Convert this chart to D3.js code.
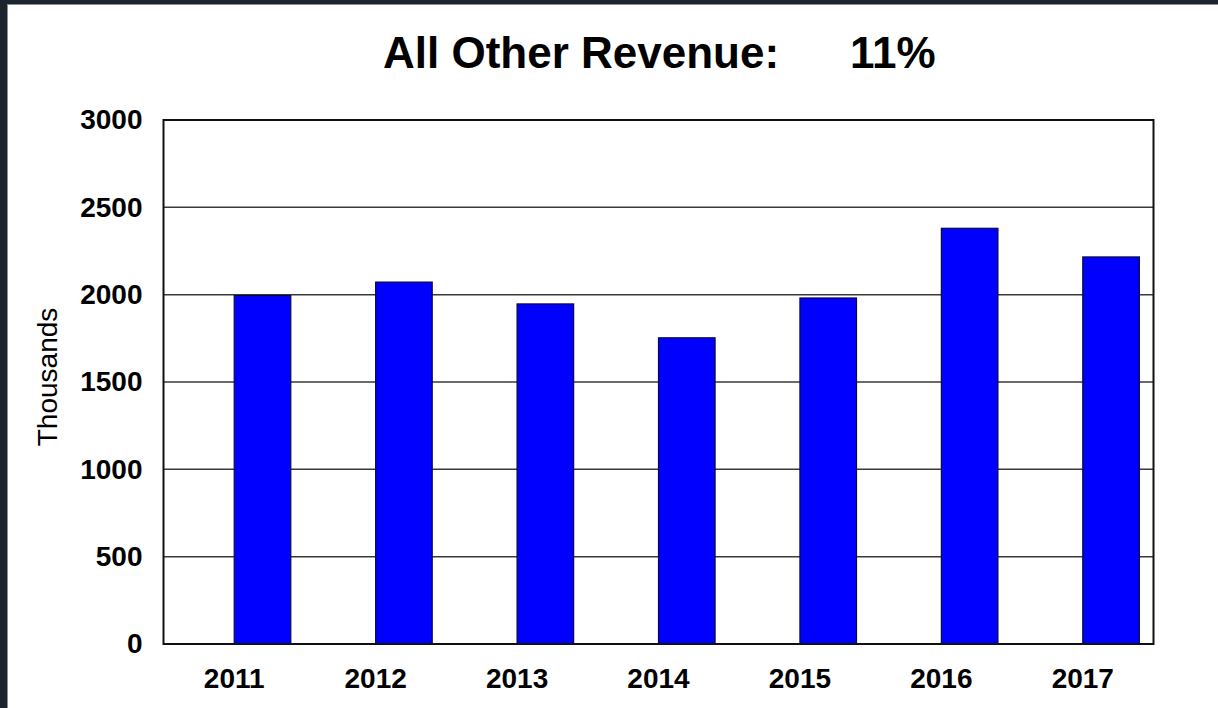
<!DOCTYPE html>
<html>
<head>
<meta charset="utf-8">
<title>All Other Revenue</title>
<script src="https://d3js.org/d3.v7.min.js"></script>
<style>
  html, body { margin: 0; padding: 0; background: #1e2330; }
  #frame { position: absolute; left: 7px; top: 4px; width: 1211px; height: 704px;
           background: #fff; border-left: 1px solid #8a8e96; border-top: 1px solid #8a8e96; box-sizing: border-box; }
  svg { display: block; }
</style>
</head>
<body>
<div id="frame"></div>
<script>
// data
var years = ["2011", "2012", "2013", "2014", "2015", "2016", "2017"];
var revenue = [1995, 2072, 1947, 1753, 1981, 2380, 2216];
var yTicks = [0, 500, 1000, 1500, 2000, 2500, 3000];
var titleText = "All Other Revenue:";
var shareText = "11%";

var W = 1218, H = 708;
var svg = d3.select("body").append("svg")
  .attr("width", W).attr("height", H)
  .style("position", "absolute").style("left", 0).style("top", 0);

var plotL = 163.5, plotR = 1153.5, plotT = 120, plotB = 644;

var x = d3.scaleBand().domain(years).range([plotL, plotR]).padding(0);
var y = d3.scaleLinear().domain([0, 3000]).range([plotB, plotT]);

// gridlines
svg.append("g")
  .selectAll("line")
  .data(yTicks.slice(1, -1))
  .enter().append("line")
  .attr("x1", plotL).attr("x2", plotR)
  .attr("y1", function(d){ return y(d); })
  .attr("y2", function(d){ return y(d); })
  .attr("stroke", "#3a3a3a")
  .attr("stroke-width", 1.5);

// bars: start at band centre (empty first series in original)
var bw = x.bandwidth() * 0.4;
svg.selectAll(".bar")
  .data(revenue)
  .enter().append("rect")
  .attr("class", "bar")
  .attr("x", function(d, i){ return x(years[i]) + x.bandwidth() / 2; })
  .attr("y", function(d){ return y(d); })
  .attr("width", bw)
  .attr("height", function(d){ return y(0) - y(d); })
  .attr("fill", "#0000ff")
  .attr("stroke", "#0a0a40")
  .attr("stroke-width", 1.2);

// plot border
svg.append("rect")
  .attr("x", plotL).attr("y", plotT)
  .attr("width", plotR - plotL).attr("height", plotB - plotT)
  .attr("fill", "none")
  .attr("stroke", "#111")
  .attr("stroke-width", 2);

// y axis labels
var yAxis = d3.axisLeft(y).tickValues(yTicks).tickSize(0).tickPadding(21).tickFormat(d3.format("d"));
var gy = svg.append("g").attr("transform", "translate(" + plotL + ",0)").call(yAxis);
gy.select(".domain").remove();
gy.selectAll("text")
  .attr("font-family", "Liberation Sans, Arial, sans-serif")
  .attr("font-size", 28).attr("font-weight", "bold").attr("fill", "#000");

// x axis labels
var xAxis = d3.axisBottom(x).tickSize(0).tickPadding(24);
var gx = svg.append("g").attr("transform", "translate(0," + plotB + ")").call(xAxis);
gx.select(".domain").remove();
gx.selectAll("text")
  .attr("font-family", "Liberation Sans, Arial, sans-serif")
  .attr("font-size", 28).attr("font-weight", "bold").attr("fill", "#000");

// y axis title
svg.append("text")
  .attr("transform", "translate(57,377) rotate(-90)")
  .attr("text-anchor", "middle")
  .attr("font-family", "Liberation Sans, Arial, sans-serif")
  .attr("font-size", 28)
  .attr("fill", "#000")
  .text("Thousands");

// title
var title = svg.append("text")
  .attr("y", 68)
  .attr("font-family", "Liberation Sans, Arial, sans-serif")
  .attr("font-size", 44).attr("font-weight", "bold").attr("fill", "#000");
title.append("tspan").attr("x", 383).text(titleText);
title.append("tspan").attr("x", 850).text(shareText);
</script>
</body>
</html>
